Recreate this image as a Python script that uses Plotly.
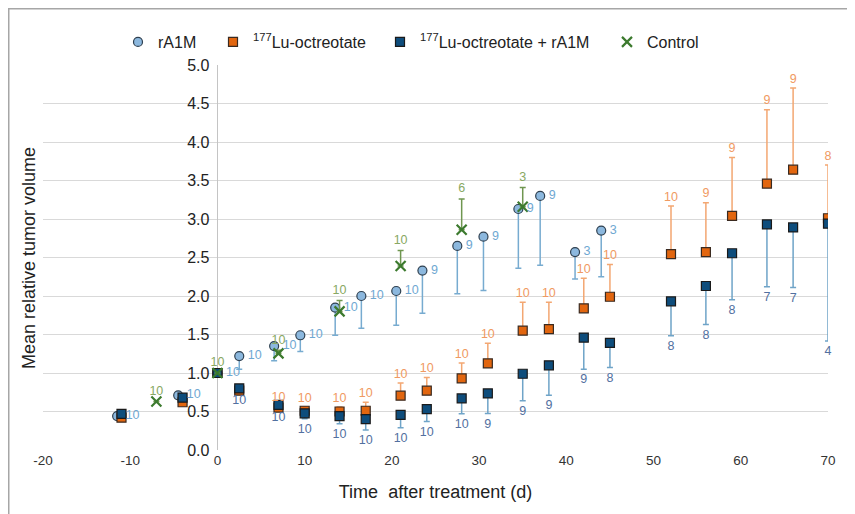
import plotly.graph_objects as go

# ---------------- data ----------------
ra1m_t = [-11.5, -4.5, 0, 2.5, 6.5, 9.5, 13.5, 16.5, 20.5, 23.5, 27.5, 30.5, 34.5, 37, 41, 44]
ra1m_v = [0.44, 0.71, 1.0, 1.22, 1.35, 1.49, 1.85, 2.0, 2.065, 2.33, 2.65, 2.77, 3.13, 3.30, 2.57, 2.85]
ra1m_err = [0, 0, 0, 0.17, 0.19, 0.21, 0.36, 0.42, 0.445, 0.555, 0.62, 0.70, 0.77, 0.90, 0.35, 0.60]
ra1m_n = ["10", "10", "10", "10", "10", "10", "10", "10", "10", "9", "9", "9", "9", "9", "3", "3"]

lu_t = [-11, -4, 0, 2.5, 7, 10, 14, 17, 21, 24, 28, 31, 35, 38, 42, 45, 52, 56, 59, 63, 66, 70]
lu_v = [0.42, 0.62, 1.0, 0.77, 0.55, 0.51, 0.50, 0.51, 0.705, 0.77, 0.93, 1.125, 1.55, 1.57,
        1.84, 1.99, 2.545, 2.57, 3.04, 3.46, 3.64, 3.01]
lu_err = [0, 0, 0, 0, 0.02, 0.05, 0.06, 0.11, 0.165, 0.17, 0.20, 0.26, 0.37, 0.35,
          0.39, 0.42, 0.625, 0.64, 0.76, 0.96, 1.06, 0.69]
lu_n = ["", "", "", "", "10", "10", "10", "10", "10", "10", "10", "10", "10", "10",
        "10", "10", "10", "9", "9", "9", "9", "8"]

combo_t = lu_t
combo_v = [0.47, 0.68, 1.0, 0.80, 0.585, 0.476, 0.44, 0.40, 0.455, 0.53, 0.67, 0.735, 0.99, 1.10,
           1.46, 1.39, 1.93, 2.13, 2.555, 2.93, 2.89, 2.94]
combo_err = [0, 0, 0, 0.02, 0.03, 0.07, 0.10, 0.14, 0.165, 0.16, 0.20, 0.26, 0.35, 0.39,
             0.41, 0.32, 0.445, 0.50, 0.605, 0.81, 0.78, 1.525]
combo_n = ["", "", "", "10", "10", "10", "10", "10", "10", "10", "10", "9", "9", "9",
           "9", "8", "8", "8", "8", "7", "7", "4"]

ctrl_t = [-7, 0, 7, 14, 21, 28, 35]
ctrl_v = [0.63, 1.0, 1.255, 1.80, 2.39, 2.86, 3.16]
ctrl_err = [0, 0, 0.04, 0.14, 0.20, 0.40, 0.25]
ctrl_n = ["10", "10", "10", "10", "10", "6", "3"]

x_ticks = [-20, -10, 0, 10, 20, 30, 40, 50, 60, 70]
y_ticks = [0, 0.5, 1.0, 1.5, 2.0, 2.5, 3.0, 3.5, 4.0, 4.5, 5.0]

# ---------------- styles ----------------
FONT = "Liberation Sans, Arial, sans-serif"
C_RA1M = "#8cb8de"
C_RA1M_BAR = "#77abd0"
C_RA1M_TXT = "#6fa8d2"
C_LU = "#e2660f"
C_LU_BAR = "#f3a772"
C_LU_TXT = "#f09a62"
C_CO = "#0e4d7c"
C_CO_BAR = "#6fa4c8"
C_CO_TXT = "#5270a0"
C_CT = "#3c7a2e"
C_CT_BAR = "#6f9650"
C_CT_TXT = "#88a862"

# figure geometry (page has an 8px body margin)
W, H = 847, 506
L, R, T, B = 35, 27, 57, 64
pw, ph = W - L - R, H - T - B


def px2paper_x(px):
    return (px - L) / pw


def px2paper_y(py):
    return (H - B - py) / ph


fig = go.Figure()


def zeros(a):
    return [0] * len(a)


fig.add_trace(go.Scatter(
    x=ra1m_t, y=ra1m_v, mode="markers", name="rA1M", legend="legend",
    marker=dict(symbol="circle", size=9, color=C_RA1M, line=dict(color="#2f4050", width=1.2)),
    error_y=dict(type="data", symmetric=False, array=zeros(ra1m_v), arrayminus=ra1m_err,
                 color=C_RA1M_BAR, thickness=1.5, width=3),
))
fig.add_trace(go.Scatter(
    x=lu_t, y=lu_v, mode="markers", name="<sup>177</sup>Lu-octreotate", legend="legend2",
    marker=dict(symbol="square", size=9, color=C_LU, line=dict(color="#3a2a20", width=1.2)),
    error_y=dict(type="data", symmetric=False, array=lu_err, arrayminus=zeros(lu_v),
                 color=C_LU_BAR, thickness=1.5, width=3),
))
fig.add_trace(go.Scatter(
    x=combo_t, y=combo_v, mode="markers", name="<sup>177</sup>Lu-octreotate + rA1M", legend="legend3",
    marker=dict(symbol="square", size=9, color=C_CO, line=dict(color="#1a1a1a", width=1.2)),
    error_y=dict(type="data", symmetric=False, array=zeros(combo_v), arrayminus=combo_err,
                 color=C_CO_BAR, thickness=1.5, width=3),
))
fig.add_trace(go.Scatter(
    x=ctrl_t, y=ctrl_v, mode="markers", name="Control", legend="legend4",
    marker=dict(symbol="x-thin", size=10, color=C_CT, line=dict(color=C_CT, width=2.2)),
    error_y=dict(type="data", symmetric=False, array=ctrl_err, arrayminus=zeros(ctrl_v),
                 color=C_CT_BAR, thickness=1.5, width=3),
))

# n labels (invisible markers give the text its offset from the point)
LBL = 12.5
fig.add_trace(go.Scatter(
    x=ra1m_t, y=ra1m_v, mode="markers+text", text=ra1m_n, textposition="middle right",
    marker=dict(size=12, opacity=0), cliponaxis=False,
    textfont=dict(family=FONT, size=LBL, color=C_RA1M_TXT), showlegend=False, hoverinfo="skip"))
fig.add_trace(go.Scatter(
    x=lu_t, y=[v + e for v, e in zip(lu_v, lu_err)], mode="markers+text", text=lu_n,
    textposition="top center", marker=dict(size=2, opacity=0), cliponaxis=False,
    textfont=dict(family=FONT, size=LBL, color=C_LU_TXT), showlegend=False, hoverinfo="skip"))
fig.add_trace(go.Scatter(
    x=combo_t, y=[v - e for v, e in zip(combo_v, combo_err)], mode="markers+text", text=combo_n,
    textposition="bottom center", marker=dict(size=6, opacity=0), cliponaxis=False,
    textfont=dict(family=FONT, size=LBL, color=C_CO_TXT), showlegend=False, hoverinfo="skip"))
fig.add_trace(go.Scatter(
    x=ctrl_t, y=[v + e for v, e in zip(ctrl_v, ctrl_err)], mode="markers+text", text=ctrl_n,
    textposition="top center", marker=dict(size=4, opacity=0), cliponaxis=False,
    textfont=dict(family=FONT, size=LBL, color=C_CT_TXT), showlegend=False, hoverinfo="skip"))

legend_style = dict(orientation="h", xanchor="left", yanchor="middle", y=px2paper_y(34),
                    font=dict(family=FONT, size=16, color="#222222"), itemwidth=30,
                    itemsizing="trace", bgcolor="rgba(0,0,0,0)")
leg_x_px = [135, 230, 397, 624]  # marker centres of the legend entries

fig.update_layout(
    width=W, height=H,
    margin=dict(l=L, r=R, t=T, b=B),
    paper_bgcolor="white", plot_bgcolor="white",
    font=dict(family=FONT, color="#222222"),
    showlegend=True,
    legend=dict(legend_style, x=px2paper_x(leg_x_px[0] - 25)),
    legend2=dict(legend_style, x=px2paper_x(leg_x_px[1] - 25)),
    legend3=dict(legend_style, x=px2paper_x(leg_x_px[2] - 25)),
    legend4=dict(legend_style, x=px2paper_x(leg_x_px[3] - 25)),
    xaxis=dict(range=[-20, 70], tickvals=x_ticks, ticktext=[str(v) for v in x_ticks],
               showgrid=False, zeroline=True, zerolinecolor="#c4c4c4", zerolinewidth=1.2,
               showline=False, ticks="", tickfont=dict(family=FONT, size=13.5, color="#333333"),
               title=dict(text="Time  after treatment (d)",
                          font=dict(family=FONT, size=18, color="#222222"), standoff=18)),
    yaxis=dict(range=[0, 5], tickvals=y_ticks, ticktext=[f"{v:.1f}" for v in y_ticks],
               anchor="free", position=2 / 9, ticklabelstandoff=8,
               showgrid=True, gridcolor="#d9d9d9", gridwidth=1.2, zeroline=False,
               showline=False, ticks="", tickfont=dict(family=FONT, size=16, color="#222222")),
    annotations=[dict(text="Mean relative tumor volume", textangle=-90, showarrow=False,
                      xref="paper", yref="paper", x=px2paper_x(21), y=px2paper_y(250),
                      xanchor="center", yanchor="middle",
                      font=dict(family=FONT, size=18, color="#222222"))],
    shapes=[dict(type="rect", xref="paper", yref="paper",
                 x0=px2paper_x(0.75), x1=px2paper_x(W + 50), y0=px2paper_y(H + 50), y1=px2paper_y(0.75),
                 line=dict(color="#a6a6a6", width=1.5), fillcolor="rgba(0,0,0,0)", layer="below")],
)

fig.write_html("out.html")
